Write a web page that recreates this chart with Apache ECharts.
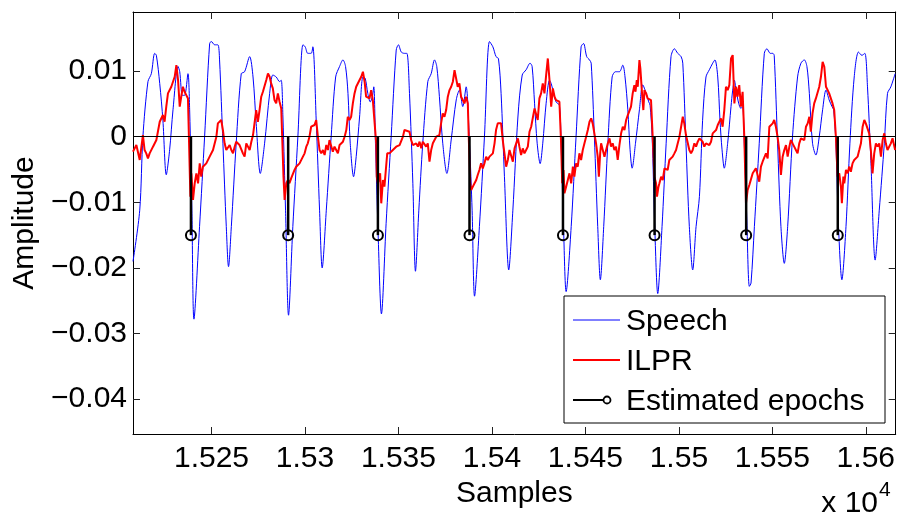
<!DOCTYPE html>
<html>
<head>
<meta charset="utf-8">
<script src="https://cdn.jsdelivr.net/npm/echarts@6/dist/echarts.min.js"></script>
<style>html,body{margin:0;padding:0;background:#fff;}#c{width:898px;height:514px;}</style>
</head>
<body>
<div id="c"></div>
<script>
// ---------- DATA ----------
const xTicks = [15250, 15300, 15350, 15400, 15450, 15500, 15550, 15600];
const xTickLabels = ['1.525', '1.53', '1.535', '1.54', '1.545', '1.55', '1.555', '1.56'];
const yTicks = [-0.04, -0.03, -0.02, -0.01, 0, 0.01];
const yTickLabels = ['\u22120.04', '\u22120.03', '\u22120.02', '\u22120.01', '0', '0.01'];
const seriesNames = ['Speech', 'ILPR', 'Estimated epochs'];

const speech = [
[15208.0,-0.0190],[15211.6,-0.0112],[15213.3,0.0000],[15216.0,0.0084],[15217.8,0.0096],[15219.6,0.0127],[15220.5,0.0124],[15222.3,0.0081],[15224.0,0.0025],[15225.8,-0.0058],[15227.6,-0.0020],[15229.4,0.0041],[15232.1,0.0107],[15233.0,0.0099],[15234.4,0.0063],[15235.6,0.0063],[15237.4,0.0096],[15238.3,0.0041],[15239.5,-0.0112],[15240.6,-0.0278],[15243.6,-0.0137],[15246.3,0.0000],[15249.0,0.0142],[15249.9,0.0145],[15251.7,0.0140],[15253.4,0.0140],[15254.3,0.0117],[15256.1,-0.0010],[15257.9,-0.0137],[15259.1,-0.0198],[15260.6,-0.0137],[15263.2,-0.0010],[15265.9,0.0096],[15267.7,0.0099],[15270.4,0.0122],[15272.2,0.0091],[15273.9,0.0020],[15276.1,-0.0056],[15278.4,-0.0010],[15281.1,0.0066],[15282.8,0.0094],[15284.6,0.0091],[15286.4,0.0084],[15287.3,0.0086],[15288.2,0.0030],[15289.6,-0.0112],[15291.2,-0.0272],[15293.5,-0.0137],[15296.2,0.0000],[15298.9,0.0140],[15300.1,0.0137],[15301.5,0.0127],[15303.3,0.0127],[15304.2,0.0137],[15306.0,0.0025],[15307.8,-0.0112],[15309.2,-0.0200],[15311.4,-0.0112],[15314.0,0.0000],[15316.4,0.0091],[15318.5,0.0107],[15320.3,0.0117],[15321.7,0.0107],[15323.0,0.0066],[15324.2,-0.0010],[15326.0,-0.0061],[15327.4,-0.0030],[15329.2,0.0030],[15331.0,0.0091],[15332.2,0.0089],[15333.6,0.0066],[15334.9,0.0053],[15336.0,0.0061],[15336.8,0.0076],[15337.7,-0.0010],[15339.0,-0.0137],[15340.9,-0.0270],[15343.4,-0.0132],[15346.1,0.0000],[15348.8,0.0132],[15350.0,0.0140],[15351.5,0.0129],[15353.2,0.0127],[15354.5,0.0127],[15355.9,0.0066],[15357.7,-0.0071],[15359.1,-0.0205],[15360.9,-0.0112],[15363.0,-0.0010],[15365.7,0.0084],[15367.5,0.0096],[15369.3,0.0117],[15370.5,0.0107],[15371.9,0.0061],[15373.7,-0.0010],[15375.9,-0.0056],[15378.2,-0.0005],[15380.9,0.0056],[15382.6,0.0071],[15384.4,0.0046],[15386.2,0.0076],[15388.0,-0.0010],[15389.4,-0.0112],[15390.7,-0.0243],[15393.3,-0.0137],[15396.0,0.0000],[15398.7,0.0145],[15400.5,0.0137],[15402.2,0.0122],[15403.5,0.0119],[15404.9,0.0066],[15406.7,-0.0061],[15409.0,-0.0203],[15411.2,-0.0112],[15413.9,0.0030],[15416.2,0.0094],[15418.3,0.0102],[15420.4,0.0112],[15421.5,0.0107],[15422.8,0.0051],[15424.2,-0.0010],[15425.8,-0.0041],[15427.2,-0.0010],[15429.0,0.0051],[15430.8,0.0086],[15431.7,0.0081],[15432.6,0.0071],[15434.3,0.0053],[15436.1,0.0048],[15437.0,-0.0010],[15438.3,-0.0137],[15439.7,-0.0236],[15442.4,-0.0137],[15445.0,0.0000],[15447.7,0.0137],[15449.0,0.0142],[15450.7,0.0122],[15452.2,0.0117],[15453.1,0.0112],[15454.8,0.0000],[15456.6,-0.0137],[15458.0,-0.0218],[15459.8,-0.0137],[15462.0,-0.0010],[15464.3,0.0091],[15466.1,0.0099],[15468.2,0.0099],[15470.0,0.0109],[15471.2,0.0091],[15472.7,0.0041],[15473.9,-0.0020],[15475.0,-0.0048],[15476.8,-0.0010],[15478.9,0.0041],[15480.7,0.0079],[15482.5,0.0066],[15483.9,0.0053],[15484.6,0.0048],[15485.7,0.0000],[15487.1,-0.0137],[15488.7,-0.0239],[15491.0,-0.0137],[15493.2,-0.0010],[15495.8,0.0122],[15497.6,0.0134],[15499.4,0.0127],[15501.2,0.0122],[15502.1,0.0112],[15503.8,-0.0010],[15505.6,-0.0137],[15507.4,-0.0203],[15509.2,-0.0137],[15511.0,-0.0091],[15512.7,0.0025],[15514.5,0.0091],[15516.3,0.0102],[15518.1,0.0112],[15519.3,0.0117],[15520.8,0.0091],[15522.0,0.0025],[15523.1,-0.0020],[15524.3,-0.0048],[15526.1,-0.0010],[15527.9,0.0046],[15528.8,0.0071],[15529.7,0.0086],[15530.6,0.0071],[15532.0,0.0051],[15533.2,0.0043],[15534.1,0.0046],[15535.0,-0.0010],[15536.3,-0.0122],[15537.7,-0.0228],[15538.6,-0.0223],[15540.4,-0.0137],[15543.0,-0.0010],[15545.7,0.0127],[15547.1,0.0134],[15548.9,0.0127],[15550.2,0.0127],[15551.0,0.0124],[15552.8,-0.0010],[15554.6,-0.0137],[15556.4,-0.0193],[15558.2,-0.0137],[15560.8,0.0000],[15563.5,0.0091],[15565.3,0.0112],[15567.1,0.0117],[15568.5,0.0107],[15569.8,0.0066],[15571.5,-0.0010],[15573.3,-0.0028],[15575.1,0.0000],[15576.9,0.0041],[15578.7,0.0071],[15580.4,0.0056],[15581.9,0.0046],[15582.8,0.0041],[15584.0,-0.0010],[15585.4,-0.0137],[15587.2,-0.0218],[15589.4,-0.0137],[15591.5,-0.0010],[15593.8,0.0091],[15596.1,0.0129],[15597.9,0.0124],[15599.5,0.0127],[15600.9,0.0076],[15602.7,-0.0036],[15605.0,-0.0188],[15607.2,-0.0112],[15609.9,-0.0010],[15611.6,0.0066],[15613.4,0.0076],[15615.7,0.0096]
];

const ilpr = [
[15208.0,-0.00228],[15209.8,-0.00127],[15211.6,-0.00355],[15213.3,0.00025],[15214.2,-0.00203],[15215.1,-0.00254],[15216.0,-0.00330],[15216.9,-0.00254],[15218.7,-0.00152],[15220.5,-0.00051],[15222.3,0.00228],[15223.2,0.00203],[15224.0,0.00330],[15224.9,0.00228],[15225.8,0.00457],[15226.7,0.00660],[15227.6,0.00660],[15228.5,0.00761],[15230.3,0.00913],[15231.2,0.01091],[15232.1,0.00863],[15233.0,0.00457],[15233.8,0.00609],[15234.7,0.00761],[15235.6,0.00685],[15236.5,0.00634],[15237.4,0.00583],[15237.9,0.0],[15238.7,-0.00913],[15239.2,-0.00558],[15240.1,-0.00964],[15241.0,-0.00710],[15241.9,-0.00558],[15242.8,-0.00710],[15243.7,-0.00406],[15244.5,-0.00609],[15245.4,-0.00457],[15247.2,-0.00406],[15249.0,-0.00304],[15250.8,-0.00203],[15252.6,0.0],[15253.4,0.00203],[15254.3,0.00178],[15255.2,0.00254],[15256.1,0.00101],[15257.0,-0.00101],[15257.9,-0.00203],[15258.8,-0.00228],[15259.7,-0.00127],[15260.6,-0.00203],[15261.5,-0.00254],[15262.4,-0.00152],[15263.2,-0.00076],[15264.1,-0.00101],[15265.0,-0.00127],[15266.8,-0.00254],[15267.7,-0.00304],[15268.6,-0.00101],[15269.5,-0.00152],[15270.4,-0.00203],[15271.3,-0.00076],[15272.2,0.00025],[15273.0,0.00203],[15273.9,0.00406],[15274.8,0.00228],[15275.7,0.00406],[15276.6,0.00609],[15277.5,0.00685],[15278.4,0.00710],[15279.3,0.00863],[15280.2,0.00964],[15281.1,0.00913],[15281.9,0.00812],[15282.8,0.00736],[15283.7,0.00558],[15284.6,0.00507],[15285.5,0.00660],[15286.4,0.00533],[15287.3,0.00431],[15287.8,0.0],[15288.5,-0.00609],[15289.1,-0.00964],[15290.0,-0.00710],[15290.9,-0.00660],[15291.7,-0.00710],[15292.6,-0.00634],[15293.5,-0.00609],[15294.4,-0.00507],[15295.3,-0.00457],[15296.2,-0.00457],[15297.1,-0.00406],[15298.0,-0.00406],[15298.9,-0.00304],[15299.8,-0.00254],[15300.7,-0.00152],[15301.5,-0.00101],[15302.4,0.0],[15303.3,0.00152],[15305.1,0.00178],[15306.0,0.00254],[15306.9,0.0],[15307.8,-0.00203],
[15308.7,-0.00254],[15309.6,-0.00203],[15310.5,-0.00279],[15311.4,-0.00127],[15312.3,-0.00203],[15313.1,-0.00051],[15314.0,-0.00076],[15314.9,-0.00228],[15315.8,-0.00152],[15316.7,-0.00203],[15317.6,-0.00254],[15318.5,-0.00127],[15319.4,-0.00127],[15320.3,-0.00076],[15321.2,0.0],[15322.1,0.00101],[15322.9,0.00304],[15323.8,0.00254],[15324.7,0.00304],[15325.6,0.00507],[15326.5,0.00660],[15327.4,0.00761],[15328.3,0.00761],[15329.2,0.00863],[15330.1,0.00913],[15331.0,0.00989],[15331.9,0.00837],[15332.7,0.00609],[15333.6,0.00634],[15334.5,0.00583],[15335.4,0.00710],[15336.3,0.00558],[15337.2,0.00558],[15338.1,-0.00101],[15338.4,-0.00609],[15339.0,-0.00710],[15339.5,-0.00710],[15340.2,-0.00558],[15340.8,-0.01015],[15341.7,-0.00660],[15342.5,-0.00761],[15343.1,-0.00558],[15344.0,-0.00254],[15345.2,-0.00254],[15347.0,-0.00203],[15348.8,-0.00152],[15350.6,-0.00127],[15352.4,0.0],[15353.2,0.00101],[15354.1,0.00127],[15355.9,0.00076],[15356.8,-0.00051],[15357.7,-0.00127],[15358.6,-0.00152],[15359.5,-0.00101],[15360.4,-0.00152],[15361.3,-0.00076],[15362.2,-0.00178],[15363.0,-0.00076],[15363.9,-0.00051],[15364.8,-0.00152],[15365.7,-0.00101],[15366.6,-0.00381],[15367.5,-0.00203],[15368.4,-0.00101],[15369.3,-0.00076],[15370.2,0.0],[15371.9,0.00025],[15372.8,0.00203],[15373.7,0.00355],[15374.6,0.00304],[15375.5,0.00406],[15376.4,0.00609],[15377.3,0.00710],[15378.2,0.00761],[15379.1,0.00837],[15380.0,0.01015],[15380.9,0.01015],[15381.7,0.00761],[15382.6,0.00812],[15383.5,0.00609],[15384.4,0.00634],[15385.3,0.00507],[15386.2,0.00609],[15387.1,0.00507],[15387.6,0.0],[15388.4,-0.00710],[15388.9,-0.00812],[15389.8,-0.00761],[15390.7,-0.00710],[15391.6,-0.00660],[15392.4,-0.00583],[15393.3,-0.00507],[15394.2,-0.00406],[15395.1,-0.00482],[15396.0,-0.00406],[15396.9,-0.00304],[15397.8,-0.00355],[15398.7,-0.00304],[15400.5,-0.00254],[15401.4,-0.00101],[15402.2,0.00101],[15403.1,0.00203],[15404.0,0.00228],[15404.9,0.00203],[15405.8,-0.00051],[15406.7,-0.00254],[15407.6,-0.00457],[15408.5,-0.00355],[15409.4,-0.00203],
[15410.3,-0.00203],[15411.2,-0.00381],[15412.1,-0.00178],[15413.0,-0.00152],[15413.9,-0.00025],[15414.7,-0.00152],[15415.6,-0.00279],[15416.5,-0.00178],[15417.4,-0.00254],[15418.3,-0.00203],[15419.2,-0.00152],[15420.1,0.00076],[15421.0,0.00152],[15421.9,0.00178],[15422.8,0.00431],[15423.7,0.00457],[15424.5,0.00254],[15425.4,0.00583],[15426.3,0.00660],[15427.2,0.00812],[15428.1,0.00660],[15429.0,0.00939],[15429.9,0.01192],[15430.8,0.00863],[15431.7,0.00457],[15432.6,0.00736],[15433.5,0.00609],[15434.3,0.00558],[15436.1,0.00533],[15437.0,-0.00101],[15437.6,-0.00710],[15438.3,-0.00507],[15438.8,-0.00863],[15439.7,-0.00761],[15440.6,-0.00660],[15441.5,-0.00558],[15442.4,-0.00710],[15443.3,-0.00457],[15444.1,-0.00609],[15445.0,-0.00406],[15445.9,-0.00457],[15446.8,-0.00254],[15447.7,-0.00355],[15448.6,-0.00203],[15449.5,-0.00101],[15450.4,0.0],[15451.3,0.00101],[15452.2,0.00228],[15453.1,0.00279],[15453.9,0.00203],[15454.8,0.00178],[15455.7,-0.00101],[15456.6,-0.00304],[15457.2,-0.00609],[15457.9,-0.00254],[15458.4,-0.00101],[15459.3,-0.00101],[15460.2,-0.00304],[15461.1,-0.00203],[15462.0,-0.00101],[15462.9,-0.00025],[15463.7,-0.00152],[15464.6,-0.00101],[15465.5,-0.00203],[15466.4,-0.00152],[15467.3,-0.00355],[15468.2,-0.00127],[15469.1,0.00051],[15470.0,0.00152],[15470.9,0.00101],[15471.8,0.00254],[15472.7,0.00330],[15473.5,0.00304],[15474.4,0.00457],[15475.3,0.00660],[15476.2,0.00786],[15476.8,0.00685],[15477.5,0.00863],[15478.0,0.00761],[15478.9,0.01167],[15479.4,0.01040],[15480.3,0.00660],[15481.0,0.00406],[15481.6,0.00710],[15482.5,0.00660],[15483.3,0.00583],[15485.1,0.00558],[15486.0,0.0],[15486.9,-0.00609],[15487.8,-0.00710],[15488.3,-0.00913],[15489.1,-0.00761],[15489.6,-0.00710],[15490.5,-0.00609],[15491.4,-0.00660],[15492.3,-0.00482],[15493.2,-0.00457],[15494.0,-0.00507],[15494.9,-0.00355],[15495.8,-0.00381],[15496.7,-0.00304],[15497.6,-0.00254],[15498.5,-0.00203],[15499.4,-0.00101],[15500.3,0.0],[15501.2,0.00152],[15502.1,0.00304],[15502.9,0.00203],[15503.8,0.00025],[15504.7,0.0],[15505.6,-0.00203],[15506.5,-0.00254],[15507.4,-0.00203],[15508.3,-0.00101],[15509.2,-0.00152],[15510.1,-0.00076],
[15511.0,-0.00025],[15511.8,0.0],[15512.7,-0.00076],[15513.6,-0.00152],[15514.5,-0.00101],[15515.4,-0.00127],[15516.3,-0.00127],[15517.2,-0.00076],[15518.1,0.00051],[15519.0,0.00025],[15519.9,0.00101],[15520.8,0.00178],[15521.6,0.00152],[15522.5,0.00279],[15523.4,0.00152],[15524.3,0.00406],[15525.2,0.00761],[15526.1,0.00710],[15527.0,0.00786],[15527.9,0.01192],[15528.8,0.01243],[15529.7,0.00507],[15530.6,0.00761],[15531.4,0.00609],[15532.3,0.00786],[15533.2,0.00457],[15534.1,0.00685],[15535.0,0.0],[15535.9,-0.01015],[15536.8,-0.00812],[15537.7,-0.00736],[15538.6,-0.00710],[15539.5,-0.00558],[15540.4,-0.00583],[15541.2,-0.00482],[15542.1,-0.00507],[15543.0,-0.00685],[15543.9,-0.00457],[15544.8,-0.00381],[15545.7,-0.00355],[15546.6,-0.00254],[15547.5,-0.00330],[15548.4,0.00152],[15549.3,0.00178],[15550.2,0.00203],[15551.0,0.00254],[15551.9,0.00152],[15552.8,0.0],[15553.7,-0.00203],[15554.6,-0.00583],[15555.5,-0.00304],[15556.4,-0.00203],[15557.3,-0.00127],[15558.2,-0.00304],[15559.1,-0.00152],[15559.9,-0.00051],[15560.8,-0.00101],[15561.7,-0.00152],[15562.6,-0.00203],[15563.5,-0.00254],[15564.4,-0.00101],[15565.3,-0.00025],[15566.2,0.0],[15567.1,-0.00051],[15568.0,0.00152],[15568.9,0.00203],[15569.8,0.00304],[15570.6,0.00076],[15571.5,0.00355],[15572.4,0.00507],[15573.3,0.00583],[15574.2,0.00609],[15575.1,0.00761],[15576.0,0.00913],[15576.9,0.01142],[15577.8,0.01065],[15578.7,0.00761],[15579.6,0.00710],[15580.4,0.00660],[15581.3,0.00685],[15582.2,0.00507],[15583.1,0.00406],[15584.0,0.0],[15584.9,-0.00609],[15585.8,-0.00558],[15586.7,-0.00761],[15587.2,-0.01015],[15588.0,-0.00609],[15588.5,-0.00710],[15589.4,-0.00507],[15590.3,-0.00558],[15591.1,-0.00457],[15592.0,-0.00533],[15592.9,-0.00406],[15593.8,-0.00355],[15595.6,-0.00304],[15596.5,-0.00203],[15597.4,-0.00101],[15598.3,0.00152],[15599.2,0.00254],[15600.0,0.00203],[15600.9,0.00178],[15601.8,0.00051],[15602.7,-0.00203],[15603.6,-0.00558],[15604.5,-0.00254],[15605.4,-0.00101],[15606.3,-0.00152],[15607.2,-0.00101],[15608.1,-0.00304],[15609.0,-0.00051],[15609.9,0.00051],[15610.7,-0.00101],[15611.6,-0.00203],[15612.5,-0.00228],[15613.4,-0.00101],[15614.3,-0.00025],[15615.7,-0.00203]
];

const epochX = [15239, 15291, 15339, 15388, 15438, 15487, 15536, 15585];
const epochY = [-0.015, -0.015, -0.015, -0.015, -0.015, -0.015, -0.015, -0.015];

// ---------- CHART ----------
const FONT = 'Liberation Sans, Arial, Helvetica, sans-serif';
const X_MIN = 15208, X_MAX = 15616, Y_MIN = -0.0453, Y_MAX = 0.019;
const chart = echarts.init(document.getElementById('c'), null, {renderer: 'canvas'});

const epochData = epochX.map((x, i) => [x, epochY[i]]);

function xAxisCommon(pos, showLabel) {
  return {
    type: 'value', position: pos, min: X_MIN, max: X_MAX,
    axisLine: {show: true, onZero: false, lineStyle: {color: '#000', width: 1}},
    axisTick: {show: true, inside: true, length: 7, customValues: xTicks, lineStyle: {color: '#222', width: 1}},
    axisLabel: {
      show: showLabel, customValues: xTicks, margin: 10, color: '#000',
      fontFamily: FONT, fontSize: 30,
      formatter: v => { const i = xTicks.indexOf(v); return i >= 0 ? xTickLabels[i] : ''; }
    },
    splitLine: {show: false}
  };
}
function yAxisCommon(pos, showLabel) {
  return {
    type: 'value', position: pos, min: Y_MIN, max: Y_MAX,
    axisLine: {show: true, onZero: false, lineStyle: {color: '#000', width: 1}},
    axisTick: {show: true, inside: true, length: 7, customValues: yTicks, lineStyle: {color: '#222', width: 1}},
    axisLabel: {
      show: showLabel, customValues: yTicks, margin: 6, color: '#000',
      fontFamily: FONT, fontSize: 30,
      formatter: v => { let i = -1; yTicks.forEach((t, k) => { if (Math.abs(t - v) < 1e-9) i = k; }); return i >= 0 ? yTickLabels[i] : ''; }
    },
    splitLine: {show: false}
  };
}

const xBottom = Object.assign(xAxisCommon('bottom', true), {
  name: 'Samples', nameLocation: 'middle', nameGap: 40,
  nameTextStyle: {fontFamily: FONT, fontSize: 30, color: '#000'}
});
const yLeft = Object.assign(yAxisCommon('left', true), {
  name: 'Amplitude', nameLocation: 'middle', nameGap: 80, nameRotate: 90,
  nameTextStyle: {fontFamily: FONT, fontSize: 30, color: '#000'}
});

// legend box geometry
const LG = {x: 564, y: 296, w: 321, h: 127};
const rows = [320, 360, 400];

const option = {
  backgroundColor: '#fff',
  animation: false,
  grid: {left: 133, right: 2, top: 12, bottom: 80, containLabel: false},
  xAxis: [xBottom, xAxisCommon('top', false)],
  yAxis: [yLeft, yAxisCommon('right', false)],
  series: [
    {
      name: seriesNames[0], type: 'line', data: speech, xAxisIndex: 0, yAxisIndex: 0,
      showSymbol: false, symbol: 'none', smooth: 0.3, z: 2,
      lineStyle: {color: '#0000ff', width: 1}, itemStyle: {color: '#0000ff'}
    },
    {
      name: seriesNames[1], type: 'line', data: ilpr, xAxisIndex: 0, yAxisIndex: 0,
      showSymbol: false, symbol: 'none', smooth: false, z: 3,
      lineStyle: {color: '#ff0000', width: 2}, itemStyle: {color: '#ff0000'},
      markLine: {
        silent: true, symbol: ['none', 'none'], label: {show: false},
        lineStyle: {color: '#000', width: 1, type: 'solid'},
        data: [{yAxis: 0}]
      }
    },
    {
      name: seriesNames[2], type: 'custom', data: epochData, xAxisIndex: 0, yAxisIndex: 0, z: 5,
      renderItem: function (params, api) {
        const x = api.value(0), y = api.value(1);
        const p0 = api.coord([x, 0]);
        const p1 = api.coord([x, y]);
        return {
          type: 'group',
          children: [
            {type: 'line', shape: {x1: p0[0], y1: p0[1], x2: p1[0], y2: p1[1]},
             style: {stroke: '#000', lineWidth: 2.5}},
            {type: 'circle', shape: {cx: p1[0], cy: p1[1], r: 5},
             style: {stroke: '#000', lineWidth: 2, fill: 'rgba(0,0,0,0)'}}
          ]
        };
      }
    }
  ],
  graphic: [
    {type: 'rect', z: 100, shape: {x: LG.x, y: LG.y, width: LG.w, height: LG.h},
     style: {fill: '#fff', stroke: '#000', lineWidth: 1}},
    {type: 'line', z: 101, shape: {x1: 573, y1: rows[0], x2: 620, y2: rows[0]}, style: {stroke: '#0000ff', lineWidth: 1}},
    {type: 'line', z: 101, shape: {x1: 573, y1: rows[1], x2: 620, y2: rows[1]}, style: {stroke: '#ff0000', lineWidth: 2}},
    {type: 'line', z: 101, shape: {x1: 573, y1: rows[2], x2: 603, y2: rows[2]}, style: {stroke: '#000', lineWidth: 2}},
    {type: 'circle', z: 101, shape: {cx: 607, cy: rows[2], r: 3.5}, style: {stroke: '#000', lineWidth: 1.8, fill: 'rgba(0,0,0,0)'}},
    {type: 'text', z: 101, x: 626, y: rows[0] + 2, style: {text: seriesNames[0], font: '30px ' + FONT, fill: '#000', verticalAlign: 'middle', align: 'left'}},
    {type: 'text', z: 101, x: 626, y: rows[1] + 2, style: {text: seriesNames[1], font: '30px ' + FONT, fill: '#000', verticalAlign: 'middle', align: 'left'}},
    {type: 'text', z: 101, x: 626, y: rows[2] + 2, style: {text: seriesNames[2], font: '30px ' + FONT, fill: '#000', verticalAlign: 'middle', align: 'left'}},
    {type: 'text', z: 101, x: 878, y: 489, style: {text: 'x 10', font: '30px ' + FONT, fill: '#000', verticalAlign: 'top', align: 'right'}},
    {type: 'text', z: 101, x: 879, y: 480, style: {text: '4', font: '21px ' + FONT, fill: '#000', verticalAlign: 'top', align: 'left'}}
  ]
};
chart.setOption(option);
</script>
</body>
</html>
